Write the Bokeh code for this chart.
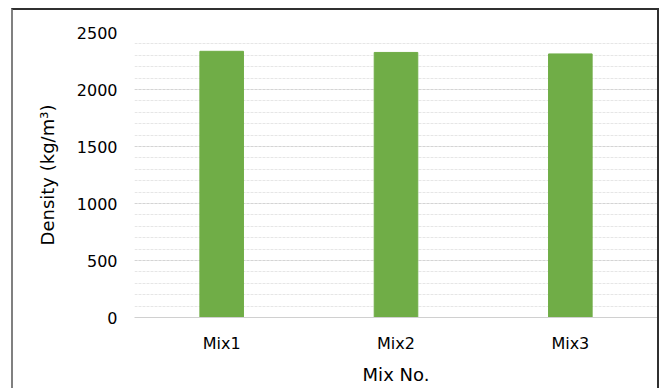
from bokeh.plotting import figure
from bokeh.models import FactorRange, Range1d, FixedTicker
from bokeh.embed import file_html
from bokeh.resources import INLINE

# Density of each mix (kg/m3)
mixes = ["Mix1", "Mix2", "Mix3"]
density = [2335, 2325, 2312]

y_ticks = [0, 500, 1000, 1500, 2000, 2500]
y_minor = list(range(0, 2600, 100))

FONT = "DejaVu Sans"

p = figure(
    x_range=FactorRange(*mixes, range_padding=0),
    y_range=Range1d(0, 2500),
    width=648, height=380,
    output_backend="svg", toolbar_location=None,
    min_border_left=121, min_border_right=4,
    min_border_top=22, min_border_bottom=73,
    margin=(8, 0, 0, 11),
    styles={
        "border-top": "2px solid #303030",
        "border-right": "2px solid #303030",
        "border-left": "2px solid #808080",
        "border-bottom": "none",
    },
)
p.outline_line_color = None

p.vbar(x=mixes, top=density, width=0.25, fill_color="#70ad47", line_color="#70ad47")

# grid: dashed majors every 500, lighter minors every 100
p.xgrid.grid_line_color = None
p.yaxis.ticker = FixedTicker(ticks=y_ticks, minor_ticks=y_minor)
p.ygrid.grid_line_color = "#d4d4d4"
p.ygrid.grid_line_dash = "3 1"
p.ygrid.minor_grid_line_color = "#e6e6e6"
p.ygrid.minor_grid_line_dash = "3 1"

for ax in (p.xaxis, p.yaxis):
    ax.major_tick_line_color = None
    ax.minor_tick_line_color = None
    ax.major_tick_out = 0
    ax.major_tick_in = 0
    ax.minor_tick_out = 0
    ax.minor_tick_in = 0
    ax.major_label_text_font = FONT
    ax.major_label_text_font_size = "16px"
    ax.major_label_text_color = "#000000"
    ax.axis_label_text_font = FONT
    ax.axis_label_text_font_size = "18px"
    ax.axis_label_text_font_style = "normal"
    ax.axis_label_text_color = "#000000"

p.yaxis.axis_line_color = None
p.yaxis.major_label_standoff = 17
p.yaxis.axis_label = "Density (kg/m³)"
p.yaxis.axis_label_standoff = 16

p.xaxis.axis_line_color = "#d0d0d0"
p.xaxis.major_label_standoff = 16
p.xaxis.axis_label = "Mix No."
p.xaxis.axis_label_standoff = 8

open("out.html", "w").write(file_html(p, INLINE))
